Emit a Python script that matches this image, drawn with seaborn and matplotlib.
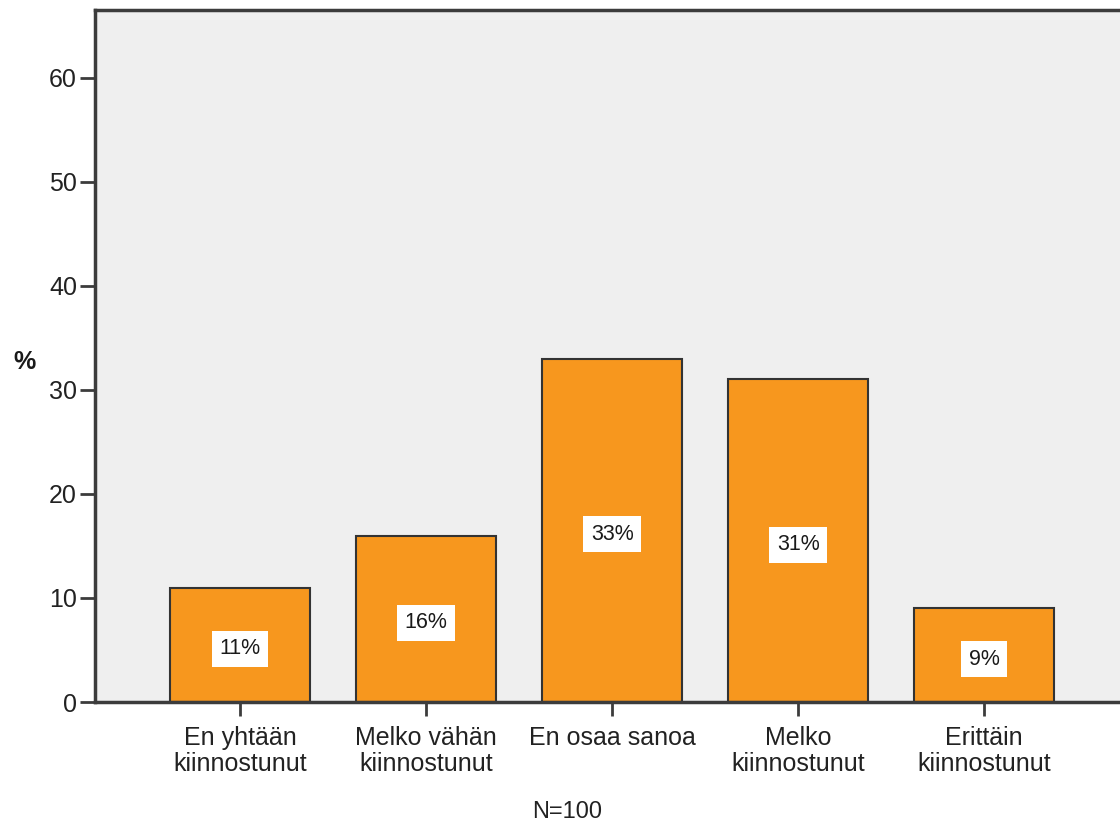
import matplotlib
matplotlib.use("Agg")
import matplotlib.pyplot as plt
import seaborn as sns
import pandas as pd

categories = ["En yhtään\nkiinnostunut", "Melko vähän\nkiinnostunut", "En osaa sanoa",
              "Melko\nkiinnostunut", "Erittäin\nkiinnostunut"]
percent = [11, 16, 33, 31, 9]
y_ticks = [0, 10, 20, 30, 40, 50, 60]

sns.set_theme(style="white")
plt.rcParams["font.family"] = ["Liberation Sans", "DejaVu Sans"]

df = pd.DataFrame({"category": categories, "percent": percent})

fig = plt.figure(figsize=(11.2, 8.27), dpi=100)
ax = fig.add_axes([95 / 1120, 1 - 702 / 827, 1 - 95 / 1120, (702 - 10) / 827])
ax.set_facecolor("#efefef")

sns.barplot(data=df, x="category", y="percent", ax=ax, color="#f7971e",
            saturation=1, width=0.75, edgecolor="#333333", linewidth=1.5)

for i, v in enumerate(percent):
    ax.text(i, v / 2 - 0.4, f"{v}%", ha="center", va="center", fontsize=15.5,
            color="#1a1a1a",
            bbox=dict(boxstyle="square,pad=0.35", facecolor="white", edgecolor="none"))

ax.set_xlim(-0.78, 4.73)
ax.set_ylim(0, 66.5)
ax.set_yticks(y_ticks)
ax.set_yticklabels([str(t) for t in y_ticks])
ax.set_xlabel("")
ax.set_ylabel("")

for side in ["left", "top", "bottom"]:
    ax.spines[side].set_visible(True)
    ax.spines[side].set_color("#3c3c3c")
    ax.spines[side].set_linewidth(2.5)
ax.spines["right"].set_visible(False)

ax.tick_params(axis="y", direction="out", length=11, width=2, color="#3c3c3c",
               labelsize=18, labelcolor="#222222", pad=2, left=True)
ax.tick_params(axis="x", direction="out", length=10, width=2, color="#3c3c3c",
               labelsize=18, labelcolor="#222222", pad=7, bottom=True)
for lbl in ax.get_xticklabels():
    lbl.set_linespacing(1.12)

fig.text(25 / 1120, 1 - 362 / 827, "%", fontsize=18, fontweight="bold",
         ha="center", va="center", color="#1a1a1a")
fig.text(567 / 1120, 1 - 812 / 827, "N=100", fontsize=17, ha="center",
         va="center", color="#222222")

fig.savefig("out.png", dpi=100, facecolor="white")
